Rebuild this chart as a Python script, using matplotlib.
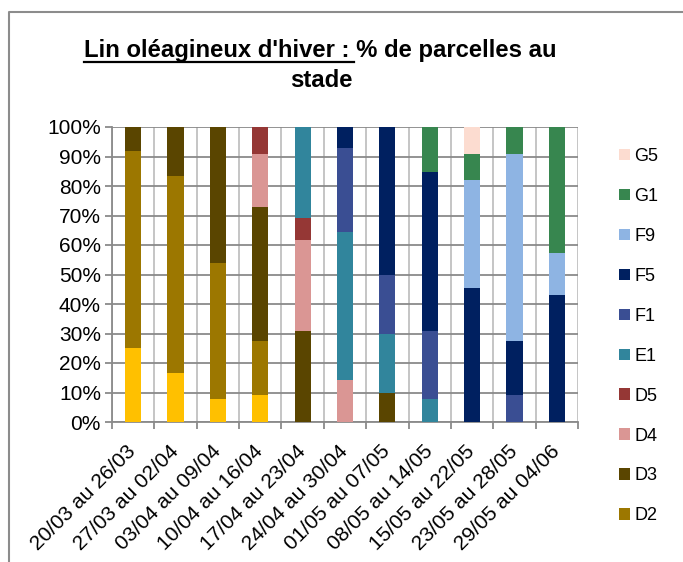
import matplotlib
matplotlib.use('Agg')
import matplotlib.pyplot as plt
from matplotlib.patches import Patch
from matplotlib.lines import Line2D
from matplotlib.ticker import FuncFormatter
import numpy as np

plt.rcParams['font.family'] = ['Liberation Sans', 'DejaVu Sans']

# semaines d'observation
periodes = ["20/03 au 26/03", "27/03 au 02/04", "03/04 au 09/04", "10/04 au 16/04",
            "17/04 au 23/04", "24/04 au 30/04", "01/05 au 07/05", "08/05 au 14/05",
            "15/05 au 22/05", "23/05 au 28/05", "29/05 au 04/06"]

# % de parcelles par stade
D1 = [25.0, 16.7, 7.7, 9.1, 0, 0, 0, 0, 0, 0, 0]
D2 = [67.0, 66.7, 46.2, 18.2, 0, 0, 0, 0, 0, 0, 0]
D3 = [8.0, 16.7, 46.2, 45.5, 30.8, 0, 10.0, 0, 0, 0, 0]
D4 = [0, 0, 0, 18.2, 30.8, 14.3, 0, 0, 0, 0, 0]
D5 = [0, 0, 0, 9.1, 7.7, 0, 0, 0, 0, 0, 0]
E1 = [0, 0, 0, 0, 30.8, 50.0, 20.0, 7.7, 0, 0, 0]
F1 = [0, 0, 0, 0, 0, 28.6, 20.0, 23.1, 0, 9.1, 0]
F5 = [0, 0, 0, 0, 0, 7.1, 50.0, 53.8, 45.5, 18.2, 42.9]
F9 = [0, 0, 0, 0, 0, 0, 0, 0, 36.4, 63.6, 14.3]
G1 = [0, 0, 0, 0, 0, 0, 0, 15.4, 9.1, 9.1, 42.9]
G5 = [0, 0, 0, 0, 0, 0, 0, 0, 9.1, 0, 0]

stades = ['D1', 'D2', 'D3', 'D4', 'D5', 'E1', 'F1', 'F5', 'F9', 'G1', 'G5']
series = [D1, D2, D3, D4, D5, E1, F1, F5, F9, G1, G5]
couleurs = ['#FFC000', '#9C7700', '#5A4500', '#DA9694', '#953735', '#31859C',
            '#3A4E93', '#002060', '#8EB4E3', '#37864F', '#FCDCD0']

fig = plt.figure(figsize=(6.83, 5.62), dpi=100)
ax = fig.add_axes([112 / 683, 140 / 562, 466 / 683, 295 / 562])

x = np.arange(len(periodes))
bas = np.zeros(len(periodes))
for nom, vals, c in zip(stades, series, couleurs):
    ax.bar(x, vals, width=0.38, bottom=bas, color=c, linewidth=0, zorder=3)
    bas += np.array(vals)

ax.set_xlim(-0.5, len(periodes) - 0.5)
ax.set_ylim(0, 100)
ax.set_yticks(np.arange(0, 101, 10))
ax.yaxis.set_major_formatter(FuncFormatter(lambda v, p: f"{int(v)}%"))

ax.set_xticks(x)
ax.set_xticklabels(periodes, rotation=45, ha='right', va='center',
                   rotation_mode='anchor')
ax.set_xticks(np.arange(-0.5, len(periodes)), minor=True)

ax.grid(axis='y', which='major', color='#8a8a8a', linewidth=1.3, zorder=1)
ax.grid(axis='x', which='minor', color='#c0c0c0', linewidth=1.3, zorder=1)
ax.set_axisbelow(True)

ax.tick_params(axis='x', which='major', length=0, pad=19, labelsize=15)
ax.tick_params(axis='x', which='minor', length=5, width=1.3, color='#8a8a8a')
ax.tick_params(axis='y', length=5, width=1.3, color='#8a8a8a', labelsize=15, pad=3)

for s in ['top', 'right']:
    ax.spines[s].set_visible(False)
for s in ['left', 'bottom']:
    ax.spines[s].set_color('#8a8a8a')
    ax.spines[s].set_linewidth(1.3)

# légende (ordre inversé, D1 hors cadre comme dans l'original)
poignees = [Patch(facecolor=c, edgecolor='none') for c in couleurs[1:]][::-1]
noms = stades[1:][::-1]
fig.legend(poignees, noms, loc='upper left', bbox_to_anchor=(619 / 683, 1 - 148 / 562),
           frameon=False, fontsize=13, handlelength=0.6, handleheight=0.6,
           handletextpad=0.25, labelspacing=1.27, borderaxespad=0, borderpad=0)

# titre avec partie soulignée
ligne1 = "Lin oléagineux d'hiver : % de parcelles au"
prefixe = "Lin oléagineux d'hiver :"
t1 = fig.text(320 / 683, 1 - 57 / 562, ligne1, ha='center', va='baseline',
              fontsize=17.2, fontweight='bold')
fig.text(321 / 683, 1 - 87 / 562, "stade", ha='center', va='baseline',
         fontsize=17.2, fontweight='bold')
r = fig.canvas.get_renderer()
tmp = fig.text(0, 0, prefixe, fontsize=17.2, fontweight='bold')
lp = tmp.get_window_extent(r).width
tmp.remove()
bb = t1.get_window_extent(r)
W = fig.bbox.width
y_line = (562 - 61.5) / 562
fig.add_artist(Line2D([bb.x0 / W, (bb.x0 + lp + 5) / W], [y_line, y_line],
                      transform=fig.transFigure, color='black', lw=1.6))

# cadre du graphique (bords gauche et haut visibles)
xb, yb = 8.5 / 683, 1 - 12 / 562
fig.add_artist(Line2D([xb, xb, 1.0], [0.0, yb, yb], transform=fig.transFigure,
                      color='#8c8c8c', lw=1.5))

fig.savefig('out.png', dpi=100)
